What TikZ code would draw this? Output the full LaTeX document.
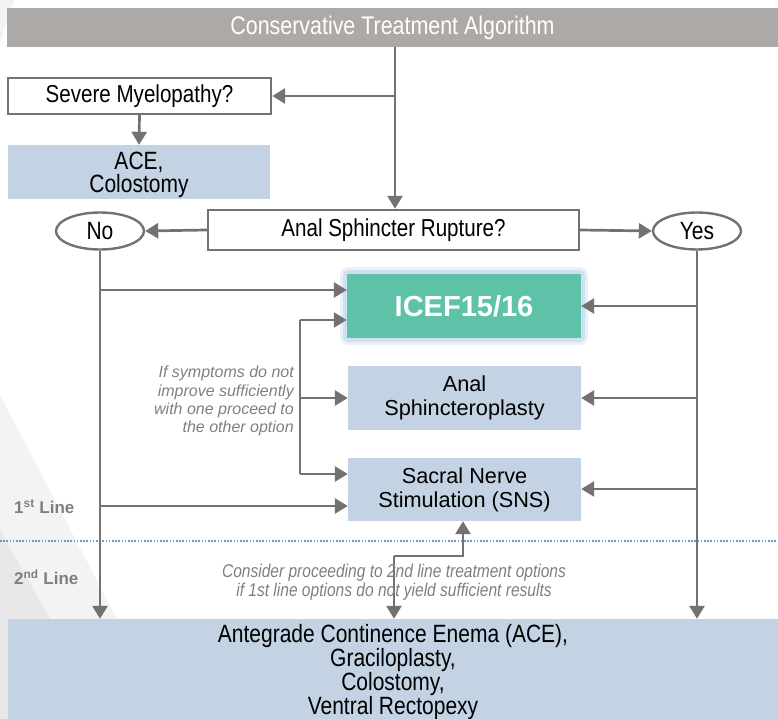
\documentclass[tikz,border=0pt]{standalone}
\usepackage{fontspec}
\setmainfont{Liberation Sans}
\newfontfamily\cond[FakeStretch=0.84]{Liberation Sans}
\usetikzlibrary{arrows.meta,shapes.geometric,calc}
\definecolor{titlegray}{HTML}{ADA9A7}
\definecolor{linegray}{HTML}{767171}
\definecolor{lightblue}{HTML}{C3D3E3}
\definecolor{teal}{HTML}{5EC2A9}
\definecolor{glow}{HTML}{BDD7EE}
\definecolor{notegray}{HTML}{7F7F7F}
\definecolor{dotblue}{HTML}{6F98BE}
\definecolor{bgA}{HTML}{F3F3F3}
\definecolor{bgB}{HTML}{E8E8E8}
\tikzset{
  arr/.style={draw=linegray, line width=2.7pt, -{Triangle[length=13pt,width=15pt]}},
  ln/.style={draw=linegray, line width=2.7pt},
  qbox/.style={draw=linegray, line width=2.4pt, fill=white, minimum width=#1, minimum height=36pt, inner sep=0pt, font=\cond\fontsize{24.5}{26}\selectfont},
  bluebox/.style={fill=lightblue, inner sep=0pt, align=center, font=\fontsize{21.7}{24}\selectfont},
  oval/.style={ellipse, draw=linegray, line width=2.4pt, fill=white, minimum width=88pt, minimum height=37pt, inner sep=0pt, font=\cond\fontsize{25}{26}\selectfont},
  boxtext/.style={align=center, inner sep=0pt, font=\cond\fontsize{25}{#1}\selectfont},
}
\begin{document}
\begin{tikzpicture}[x=1pt,y=-1pt]
\useasboundingbox (0,0) rectangle (778,719);
% background decoration
\fill[bgA] (0,0) -- (14,0) -- (0,42) -- cycle;
\fill[bgA] (0,395) -- (117,619) -- (0,619) -- cycle;
\fill[bgB] (0,530) -- (50,619) -- (0,619) -- cycle;
\fill[bgB] (0,619) rectangle (8,719);
% title
\node[fill=titlegray, minimum width=771pt, minimum height=39pt, inner sep=0pt, text=white, font=\cond\fontsize{25.5}{27}\selectfont] (title) at (392.5,27.5) {Conservative Treatment Algorithm};
% boxes
\node[qbox=263pt] (sev) at (139.5,96) {Severe Myelopathy?};
\node[bluebox, minimum width=262pt, minimum height=54pt] (ace) at (139,172) {};
\node[boxtext=23] (acetxt) at (139,175) {ACE,\\Colostomy};
\node[qbox=371pt, minimum height=40pt] (anal) at (393.5,230) {Anal Sphincter Rupture?};
\node[oval] (no) at (100,231) {No};
\node[oval] (yes) at (697,231) {Yes};
% glow for ICEF
\fill[glow, opacity=0.35, rounded corners=8pt] (340,267) rectangle (588,345);
\fill[glow, opacity=0.6, rounded corners=5pt] (343,270) rectangle (585,342);
\node[fill=teal, minimum width=234pt, minimum height=64pt, inner sep=0pt, text=white, font=\bfseries\fontsize{29}{32}\selectfont] (icef) at (464,306) {ICEF15/16};
\node[bluebox, minimum width=233pt, minimum height=64pt] (sph) at (464.5,398) {Anal\\Sphincteroplasty};
\node[bluebox, minimum width=233pt, minimum height=63pt] (sns) at (464.5,489.5) {Sacral Nerve\\Stimulation (SNS)};
\node[bluebox, minimum width=770pt, minimum height=100pt] (bot) at (393,669) {};
\node[boxtext=24.2] (bottxt) at (393,672) {Antegrade Continence Enema (ACE),\\Graciloplasty,\\Colostomy,\\Ventral Rectopexy};
% dotted separator
\draw[dotblue, line width=2pt, dash pattern=on 1.6pt off 1.6pt] (0,541) -- (778,541);
% coordinates
\coordinate (t0) at (395,47);
\coordinate (n1) at (100,290);
\coordinate (n2) at (100,506);
\coordinate (y1) at (697,306);
\coordinate (y2) at (697,398);
\coordinate (y3) at (697,489);
\coordinate (b1) at (300,320);
\coordinate (b2) at (300,398);
\coordinate (b3) at (300,474);
\coordinate (c1) at (394,556);
\coordinate (c2) at (463,556);
% connectors
\draw[arr] (t0) -- (t0 |- anal.north);
\draw[arr] (t0 |- sev.east) -- (sev.east);
\draw[arr] (sev.south) -- (ace.north);
\draw[arr] (anal.west) -- (no.east);
\draw[arr] (anal.east) -- (yes.west);
\draw[arr] (no.south) -- (no.south |- bot.north);
\draw[arr] (yes.south) -- (yes.south |- bot.north);
\draw[arr] (n1) -- (n1 -| icef.west);
\draw[arr] (n2) -- (n2 -| sns.west);
\draw[arr] (y1) -- (y1 -| icef.east);
\draw[arr] (y2) -- (y2 -| sph.east);
\draw[arr] (y3) -- (y3 -| sns.east);
\draw[ln] (b1) -- (b3);
\draw[arr] (b1) -- (b1 -| icef.west);
\draw[arr] (b2) -- (b2 -| sph.west);
\draw[arr] (b3) -- (b3 -| sns.west);
\draw[arr] (c1) -- (c1 |- bot.north);
\draw[arr] (c1) -- (c2) -- (c2 |- sns.south);
% labels
\node[anchor=east, align=right, text=notegray, inner sep=0pt, font=\itshape\fontsize{16}{18.2}\selectfont] (note) at (294,401) {If symptoms do not\\improve sufficiently\\with one proceed to\\the other option};
\node[align=center, text=notegray, inner sep=0pt, font=\cond\itshape\fontsize{18.5}{18.5}\selectfont] (cons) at (394,582) {Consider proceeding to 2nd line treatment options\\if 1st line options do not yield sufficient results};
\node[anchor=west, text=notegray, inner sep=0pt, font=\bfseries\fontsize{17}{18}\selectfont] (l1) at (14,507) {1\textsuperscript{st} Line};
\node[anchor=west, text=notegray, inner sep=0pt, font=\bfseries\fontsize{17}{18}\selectfont] (l2) at (14,577) {2\textsuperscript{nd} Line};
\end{tikzpicture}
\end{document}
